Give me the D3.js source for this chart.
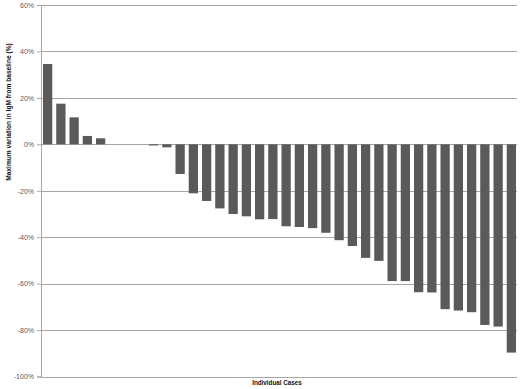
<!DOCTYPE html>
<meta charset="utf-8">
<script src="https://d3js.org/d3.v7.min.js"></script>
<title>IgM variation</title>
<head>
    <style>
    body {
      margin: 0;
      background: white;
    }
    .tick text {
      font-family: "Liberation Sans", Arial, sans-serif;
      font-size: 7px;
      fill: #595959;
    }
    .atitle {
      font-family: "Liberation Sans", Arial, sans-serif;
      font-weight: bold;
      fill: #111;
    }
    </style>
</head>
<div id="main_chart"></div>
<script>
    // one bar per patient, in the order shown (fraction of baseline)
    var cases = d3.range(1, 37);
    var variation = [0.346, 0.175, 0.116, 0.036, 0.026, 0, 0, 0, -0.005, -0.013,
      -0.128, -0.211, -0.244, -0.276, -0.300, -0.310, -0.323, -0.322, -0.353, -0.356,
      -0.361, -0.381, -0.413, -0.438, -0.489, -0.502, -0.589, -0.589, -0.637, -0.638,
      -0.710, -0.716, -0.723, -0.778, -0.785, -0.897];
    var yTicks = [0.6, 0.4, 0.2, 0, -0.2, -0.4, -0.6, -0.8, -1.0];

    var margin = {top: 5, right: 2, bottom: 12.5, left: 41},
        width = 520 - margin.left - margin.right,
        height = 389 - margin.top - margin.bottom;

    var svg = d3.select("#main_chart")
      .append("svg")
        .attr("width", 520)
        .attr("height", 389)
      .append("g")
        .attr("transform", "translate(" + margin.left + "," + margin.top + ")");

    var x = d3.scaleBand()
      .domain(cases)
      .range([0, width])
      .paddingInner(0.3)
      .paddingOuter(0.15);

    var y = d3.scaleLinear()
      .domain([-1, 0.6])
      .range([height, 0]);

    // gridlines
    svg.append("g")
      .selectAll("line")
      .data(yTicks)
      .enter()
      .append("line")
        .attr("x1", 0)
        .attr("x2", width - 1)
        .attr("y1", function(d) { return Math.round(y(d)) + 0.5; })
        .attr("y2", function(d) { return Math.round(y(d)) + 0.5; })
        .attr("stroke", "#a6a6a6")
        .attr("stroke-width", 1);

    var yAxis = svg.append("g")
      .call(d3.axisLeft(y)
        .tickValues(yTicks)
        .tickSize(4)
        .tickPadding(3)
        .tickFormat(d3.format(".0%")));
    yAxis.select(".domain").attr("stroke", "#a6a6a6");
    yAxis.selectAll(".tick line").attr("stroke", "#a6a6a6");
    yAxis.selectAll(".tick text").text(function(d) { return d3.format(".0%")(d).replace("−", "-"); });

    svg.selectAll("rect")
      .data(variation)
      .enter()
      .append("rect")
        .attr("x", function(d, i) { return x(cases[i]); })
        .attr("y", function(d) { return y(Math.max(0, d)); })
        .attr("width", x.bandwidth())
        .attr("height", function(d) { return Math.abs(y(d) - y(0)); })
        .attr("fill", "#5a5a5a");

    svg.append("text")
      .attr("class", "atitle")
      .attr("text-anchor", "middle")
      .attr("x", 236)
      .attr("y", height + 8)
      .style("font-size", "6.3px")
      .text("Individual Cases");

    svg.append("text")
      .attr("class", "atitle")
      .attr("text-anchor", "middle")
      .attr("transform", "translate(-30," + 107 + ")rotate(270)")
      .style("font-size", "6.6px")
      .text("Maximum variation in IgM from baseline (%)");
</script>
